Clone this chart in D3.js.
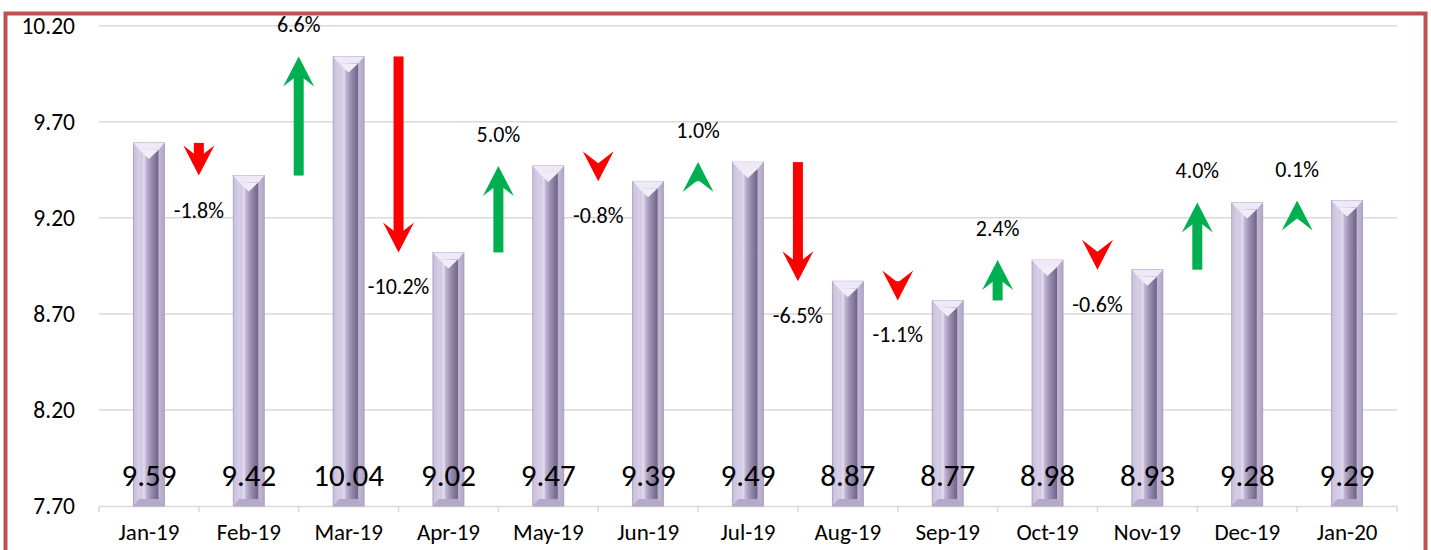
<!DOCTYPE html>
<html>
<head>
<meta charset="utf-8">
<script src="https://cdn.jsdelivr.net/npm/d3@7"></script>
<style>
  body { margin: 0; background: #fff; }
  svg { display: block; font-family: Carlito, Calibri, Lato, sans-serif; }
</style>
</head>
<body>
<svg id="chart"></svg>
<script>
// chart data
const months = ["Jan-19", "Feb-19", "Mar-19", "Apr-19", "May-19", "Jun-19", "Jul-19",
                "Aug-19", "Sep-19", "Oct-19", "Nov-19", "Dec-19", "Jan-20"];
const values = [9.59, 9.42, 10.04, 9.02, 9.47, 9.39, 9.49, 8.87, 8.77, 8.98, 8.93, 9.28, 9.29];
// month on month change, shown between the bars
const changes = ["", "-1.8%", "6.6%", "-10.2%", "5.0%", "-0.8%", "1.0%",
                 "-6.5%", "-1.1%", "2.4%", "-0.6%", "4.0%", "0.1%"];
const yTicks = [7.70, 8.20, 8.70, 9.20, 9.70, 10.20];

function main() {
    const width = 1431;
    const height = 550;
    const left = 99, right = 1397;
    const top = 25.7, bottom = 506;

    const svg = d3.select("#chart")
        .attr("width", width)
        .attr("height", height);

    const x = d3.scaleBand()
        .domain(months)
        .range([left, right])
        .padding(0);

    const y = d3.scaleLinear()
        .domain([7.70, 10.20])
        .range([bottom, top]);

    // gradients for the bevelled bars
    const defs = svg.append("defs");
    function hGrad(id, stops) {
        const g = defs.append("linearGradient").attr("id", id)
            .attr("x1", "0%").attr("x2", "100%").attr("y1", "0%").attr("y2", "0%");
        stops.forEach(s => g.append("stop").attr("offset", s[0]).attr("stop-color", s[1]));
    }
    hGrad("outerGrad", [["0%", "#c9bfdc"], ["40%", "#e2dcee"], ["100%", "#b3a6c8"]]);
    hGrad("innerGrad", [["0%", "#d8d0e8"], ["35%", "#c2b7d6"], ["60%", "#9c90b2"], ["100%", "#6e6386"]]);

    // grid lines
    svg.append("g")
        .selectAll("line")
        .data(yTicks.slice(1))
        .join("line")
        .attr("x1", left)
        .attr("x2", right)
        .attr("y1", d => y(d))
        .attr("y2", d => y(d))
        .attr("stroke", "#d9d9d9")
        .attr("stroke-width", 1.5);

    // y axis labels
    const yAxis = svg.append("g")
        .attr("transform", `translate(${left},0)`)
        .call(d3.axisLeft(y).tickValues(yTicks).tickFormat(d3.format(".2f")).tickSize(0).tickPadding(24));
    yAxis.select(".domain").remove();
    yAxis.selectAll("text")
        .attr("font-size", 23.5)
        .attr("fill", "#000")
        .style("font-family", "Carlito, Calibri, Lato, sans-serif");

    // x axis
    const xAxis = svg.append("g")
        .attr("transform", `translate(0,${bottom})`)
        .call(d3.axisBottom(x).tickSize(0).tickPadding(18));
    xAxis.select(".domain").attr("stroke", "#d9d9d9").attr("stroke-width", 1.5);
    xAxis.selectAll("text")
        .attr("font-size", 23)
        .attr("fill", "#000")
        .style("font-family", "Carlito, Calibri, Lato, sans-serif");

    // tick marks sit between the categories
    const bounds = months.map(m => x(m)).concat([x(months[months.length - 1]) + x.bandwidth()]);
    svg.append("g")
        .selectAll("line")
        .data(bounds)
        .join("line")
        .attr("x1", d => d)
        .attr("x2", d => d)
        .attr("y1", bottom)
        .attr("y2", bottom + 6)
        .attr("stroke", "#d9d9d9")
        .attr("stroke-width", 1.5);

    // bars
    const barW = 31;
    const bars = svg.append("g")
        .selectAll("g")
        .data(values)
        .join("g")
        .attr("transform", (d, i) => `translate(${x(months[i]) + x.bandwidth() / 2 - barW / 2},0)`);

    bars.append("rect")
        .attr("x", 0)
        .attr("y", d => y(d))
        .attr("width", barW)
        .attr("height", d => bottom - y(d))
        .attr("fill", "url(#outerGrad)")
        .attr("stroke", "#a598bb")
        .attr("stroke-width", 0.8);

    // top bevel
    bars.append("path")
        .attr("d", d => {
            const t = y(d);
            return `M0,${t} L${barW},${t} L${barW - 6},${t + 7} L6,${t + 7} Z`;
        })
        .attr("fill", "#eee9f6");

    bars.append("rect")
        .attr("x", 6)
        .attr("y", d => y(d) + 7)
        .attr("width", barW - 12)
        .attr("height", d => bottom - y(d) - 14)
        .attr("fill", "url(#innerGrad)");

    // light stripe and v-shape at the top of the inner face
    bars.append("rect")
        .attr("x", 9)
        .attr("y", d => y(d) + 7)
        .attr("width", 3)
        .attr("height", d => bottom - y(d) - 14)
        .attr("fill", "#e7e1f1")
        .attr("opacity", 0.7);

    bars.append("path")
        .attr("d", d => {
            const t = y(d) + 7;
            return `M6,${t} L${barW - 6},${t} L${barW / 2},${t + 9} Z`;
        })
        .attr("fill", "#f1edf8");

    // bottom bevel
    bars.append("path")
        .attr("d", () => `M0,${bottom} L${barW},${bottom} L${barW - 6},${bottom - 7} L6,${bottom - 7} Z`)
        .attr("fill", "#b5a9ca");

    // bar values along the bottom
    svg.append("g")
        .selectAll("text")
        .data(values)
        .join("text")
        .attr("x", (d, i) => x(months[i]) + x.bandwidth() / 2)
        .attr("y", 486)
        .attr("text-anchor", "middle")
        .attr("font-size", 31)
        .attr("fill", "#000")
        .text(d => d.toFixed(2));

    // change arrows between neighbouring bars
    const headLen = 30, headW = 31, notch = 12, shaftW = 10;
    const arrows = d3.range(1, values.length).map(i => ({
        x: x(months[i]),
        from: y(values[i - 1]),
        to: y(values[i]),
        up: values[i] > values[i - 1],
        label: changes[i]
    }));

    const ag = svg.append("g");
    arrows.forEach(a => {
        const dir = a.up ? -1 : 1;           // direction of travel in screen coords
        const color = a.up ? "#00b050" : "#ff0000";
        const tip = a.to;
        const wing = tip - dir * headLen;
        const inner = tip - dir * (headLen - notch);
        const span = Math.abs(a.to - a.from);
        if (span > headLen - notch) {
            const y0 = Math.min(a.from, inner), y1 = Math.max(a.from, inner);
            ag.append("rect")
                .attr("x", a.x - shaftW / 2)
                .attr("y", y0)
                .attr("width", shaftW)
                .attr("height", y1 - y0)
                .attr("fill", color);
        }
        ag.append("path")
            .attr("d", `M${a.x},${tip} L${a.x + headW / 2},${wing} L${a.x},${inner} L${a.x - headW / 2},${wing} Z`)
            .attr("fill", color);

        ag.append("text")
            .attr("x", a.x)
            .attr("y", a.up ? tip - 24 : tip + 42)
            .attr("text-anchor", "middle")
            .attr("font-size", 22)
            .attr("fill", "#000")
            .text(a.label);
    });

    // outer frame
    svg.append("rect")
        .attr("x", 5.5)
        .attr("y", 13.5)
        .attr("width", 1420)
        .attr("height", 600)
        .attr("fill", "none")
        .attr("stroke", "#c0504d")
        .attr("stroke-width", 4);
}

main();
</script>
</body>
</html>
